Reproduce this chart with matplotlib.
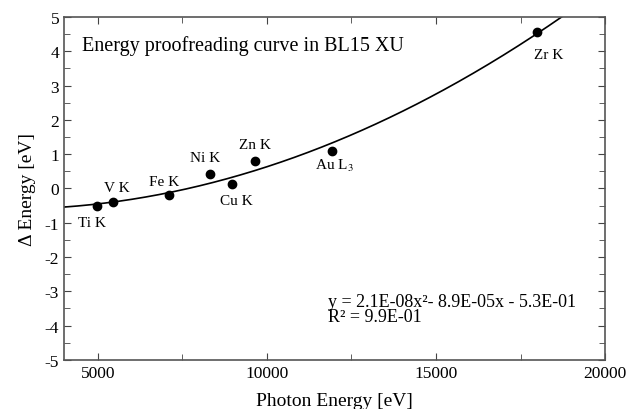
import numpy as np
import matplotlib
matplotlib.use("Agg")
import matplotlib.pyplot as plt
from matplotlib.ticker import MultipleLocator

# measured absorption edges and their energy offsets
edges = ["Ti K", "V K", "Fe K", "Ni K", "Cu K", "Zn K", "Au L$_3$", "Zr K"]
photon_ev = [4966, 5465, 7112, 8333, 8979, 9659, 11919, 17998]
delta_ev = [-0.51, -0.40, -0.19, 0.42, 0.12, 0.80, 1.08, 4.56]

# where each edge name sits (data coords)
label_x = [4830, 5570, 6960, 8170, 9090, 9650, 11980, 18340]
label_y = [-1.0, 0.02, 0.19, 0.89, -0.34, 1.27, 0.68, 3.92]

plt.rcParams["font.family"] = ["Liberation Serif", "DejaVu Serif"]
plt.rcParams["mathtext.fontset"] = "stix"
plt.rcParams["axes.unicode_minus"] = False

# quadratic trend line through the points
fit_coef = np.polyfit(photon_ev, delta_ev, 2)

fig = plt.figure(figsize=(6.27, 4.10), dpi=100)
ax = fig.add_axes([0.102, 0.120, 0.863, 0.836])

xs = np.linspace(4000, 20000, 400)
ax.plot(xs, np.polyval(fit_coef, xs), color="black", lw=1.2)
ax.plot(photon_ev, delta_ev, "o", color="black", ms=6)

for name, lx, ly in zip(edges, label_x, label_y):
    ax.text(lx, ly, name, ha="center", va="center", fontsize=11)

ax.text(0.033, 0.918, "Energy proofreading curve in BL15 XU",
        transform=ax.transAxes, fontsize=14.5, va="center")
ax.text(0.488, 0.149, "y = 2.1E-08x²- 8.9E-05x - 5.3E-01\nR² = 9.9E-01",
        transform=ax.transAxes, fontsize=13, va="center", linespacing=0.85)

ax.set_xlim(4000, 20000)
ax.set_ylim(-5, 5)
ax.xaxis.set_major_locator(MultipleLocator(5000))
ax.xaxis.set_minor_locator(MultipleLocator(2500))
ax.yaxis.set_major_locator(MultipleLocator(1))
ax.yaxis.set_minor_locator(MultipleLocator(0.5))
ax.tick_params(which="both", direction="in", top=True, right=True,
               labelsize=12.5, color="#444444")
ax.tick_params(which="major", length=5)
ax.tick_params(which="minor", length=4)
for s in ax.spines.values():
    s.set_color("#555555")
    s.set_linewidth(1.2)

ax.set_xlabel("Photon Energy [eV]", fontsize=14, labelpad=8)
ax.set_ylabel("Δ Energy [eV]", fontsize=14, labelpad=6)

fig.savefig("out.png", dpi=100)
